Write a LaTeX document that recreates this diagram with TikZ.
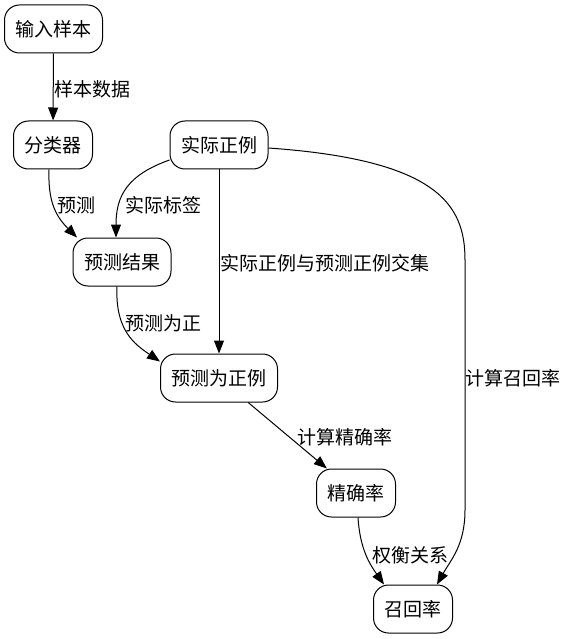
\documentclass[tikz,border=0pt]{standalone}
\usepackage{fontspec}
\setmainfont{Noto Sans CJK SC}
\usetikzlibrary{arrows.meta}
\usetikzlibrary{positioning}

\begin{document}
\begin{tikzpicture}[x=1pt, y=-1pt,
        box/.style={draw, line width=1pt, rounded corners=15pt, minimum height=48pt,
                    inner xsep=11pt, font=\fontsize{19}{21}\selectfont},
        lbl/.style={anchor=west, inner sep=0pt, font=\fontsize{19}{21}\selectfont},
        edge/.style={line width=1pt, -{Triangle[length=13pt,width=10pt]}}]
        \useasboundingbox (0,0) rectangle (566,639);
        \foreach \n/\x/\y/\t in {input/53.5/29/输入样本, clf/53/145/分类器,
                                 truepos/219/145/实际正例, result/122/262/预测结果,
                                 predpos/219/378/预测为正例, prec/356/493/精确率,
                                 recall/413/609/召回率} {
           \node[box] (\n) at (\x,\y) {\t};
        }
        \foreach \n/\x/\y/\t in {l1/54/89/样本数据, l2/57/205/预测, l3/125/205/实际标签,
                                 l4/220/263/实际正例与预测正例交集, l5/125/323/预测为正,
                                 l6/297/437/计算精确率, l7/372/555/权衡关系,
                                 l8/465/378/计算召回率} {
           \node[lbl] (\n) at (\x,\y) {\t};
        }
        \coordinate (rtop) at (465,260);
        \coordinate (rbot) at (465,510);
        \draw[edge] (input) -- (clf);
        \draw[edge] ([xshift=-4pt]clf.south) .. controls +(-1,31) and +(-22,-22) .. ([xshift=-45pt]result.north);
        \draw[edge] ([yshift=-15pt]truepos.west) .. controls +(-42,15) and +(0,-42) .. ([xshift=-6pt]result.north);
        \draw[edge] (truepos) -- (predpos);
        \draw[edge] ([xshift=-5pt]result.south) .. controls +(-2,44) and +(-25,-17) .. ([yshift=-8pt]predpos.north west);
        \draw[edge] (predpos) -- (prec);
        \draw[edge] ([xshift=2pt]prec.south) .. controls +(2,32) and +(-14,-20) .. ([xshift=-29pt]recall.north);
        \draw[edge] ([yshift=-3pt]truepos.east) .. controls +(170,12) and +(0,-55) .. (rtop) -- (rbot)
                    .. controls +(0,35) and +(14,-25) .. ([xshift=24pt]recall.north);
      \end{tikzpicture}
\end{document}
